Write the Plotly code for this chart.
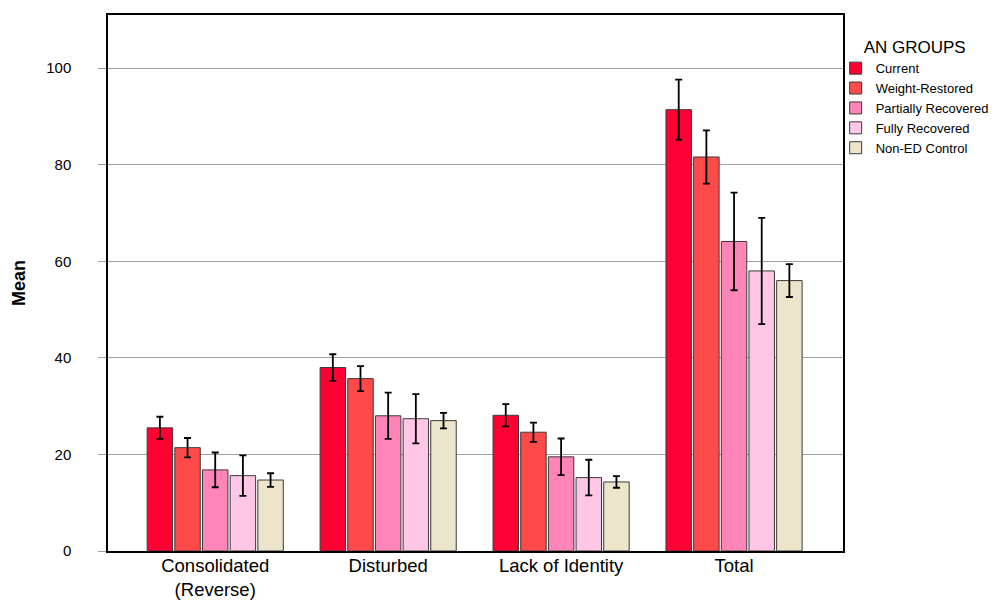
import plotly.graph_objects as go

categories = ["Consolidated<br>(Reverse)", "Disturbed", "Lack of Identity", "Total"]
groups = ["Current", "Weight-Restored", "Partially Recovered", "Fully Recovered", "Non-ED Control"]

current = [25.5, 38.0, 28.1, 91.4]
current_err = [2.3, 2.75, 2.3, 6.2]
weight_restored = [21.4, 35.7, 24.6, 81.6]
weight_restored_err = [2.0, 2.6, 2.0, 5.5]
partially = [16.8, 28.0, 19.5, 64.1]
partially_err = [3.6, 4.8, 3.8, 10.1]
fully = [15.6, 27.4, 15.2, 58.0]
fully_err = [4.2, 5.1, 3.7, 11.0]
control = [14.7, 27.0, 14.3, 56.0]
control_err = [1.4, 1.6, 1.2, 3.4]

y_ticks = [0, 20, 40, 60, 80, 100]

series = [current, weight_restored, partially, fully, control]
errors = [current_err, weight_restored_err, partially_err, fully_err, control_err]
colors = ["#ff0033", "#ff4a4a", "#ff85b8", "#ffc6e6", "#ede4cc"]

fig = go.Figure()
for name, vals, errs, col in zip(groups, series, errors, colors):
    fig.add_trace(go.Bar(
        name=name, x=categories, y=vals,
        marker=dict(color=col, line=dict(color="#3a3a3a", width=1)),
        error_y=dict(type="data", array=errs, visible=True, color="black", thickness=1.8, width=3.5),
    ))

font_family = "Liberation Sans, Arial, sans-serif"
fig.update_layout(
    width=996, height=602,
    margin=dict(l=108, r=153, t=15, b=51, autoexpand=False),
    paper_bgcolor="white", plot_bgcolor="white",
    barmode="group", bargap=0.2, bargroupgap=0.08,
    font=dict(family=font_family, color="black"),
    showlegend=True,
    legend=dict(
        x=0.990, y=0.970, xanchor="left", yanchor="top",
        title=dict(text="AN GROUPS", font=dict(size=17), side="top center"),
        font=dict(size=13), tracegroupgap=0, itemwidth=30,
        bgcolor="rgba(0,0,0,0)",
    ),
    xaxis=dict(
        range=[-0.62, 3.63], showline=True, linecolor="black", linewidth=1.5, mirror=True,
        tickfont=dict(size=18.5), ticks="", showgrid=False, automargin=False,
        ticklabelstandoff=-3,
    ),
    yaxis=dict(
        range=[0, 111], tickvals=y_ticks, showline=True, linecolor="black", linewidth=1.5, mirror=True,
        showgrid=True, gridcolor="#a0a0a0", gridwidth=1.2,
        ticks="outside", ticklen=8, tickcolor="#a0a0a0", tickfont=dict(size=15),
        ticklabelstandoff=24,
        title=dict(text="<b>Mean</b>", font=dict(size=18), standoff=16),
        zeroline=False, automargin=False,
    ),
)

fig.write_html(
    "out.html",
    config={"displayModeBar": False},
    post_script="document.body.style.margin='0';document.body.style.overflow='hidden';",
)
